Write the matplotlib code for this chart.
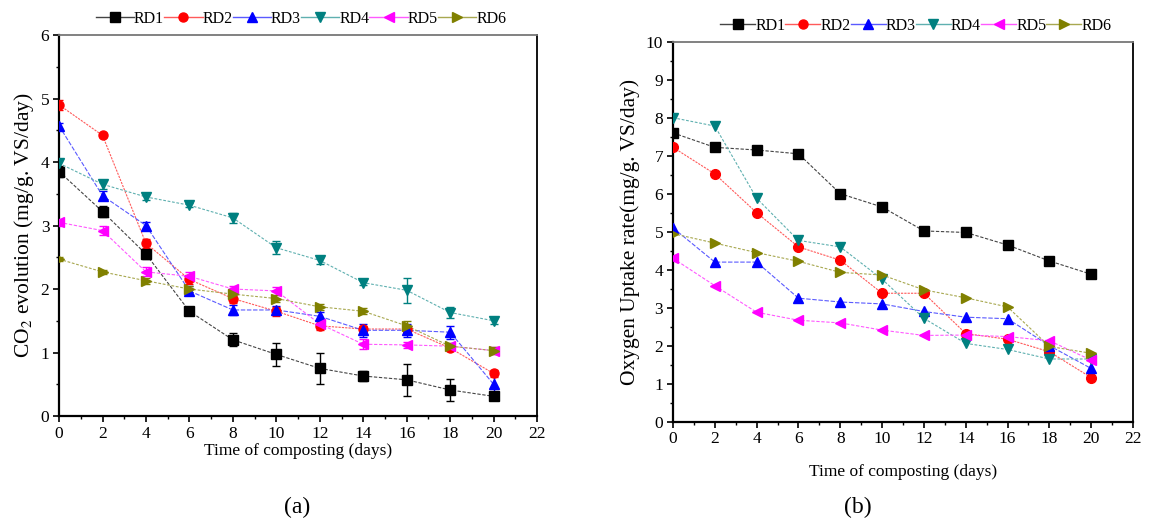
import matplotlib.pyplot as plt
from matplotlib.lines import Line2D
import numpy as np

plt.rcParams['font.family'] = ['Liberation Serif', 'DejaVu Serif']
plt.rcParams['mathtext.fontset'] = 'stix'

# Time of composting (days)
days = [0, 2, 4, 6, 8, 10, 12, 14, 16, 18, 20]
series = ['RD1', 'RD2', 'RD3', 'RD4', 'RD5', 'RD6']

# (a) CO2 evolution (mg/g VS/day)
co2 = {
    'RD1': [3.85, 3.22, 2.55, 1.65, 1.20, 0.97, 0.75, 0.63, 0.57, 0.41, 0.31],
    'RD2': [4.90, 4.42, 2.72, 2.15, 1.85, 1.65, 1.42, 1.37, 1.37, 1.07, 0.67],
    'RD3': [4.57, 3.47, 3.00, 1.97, 1.67, 1.67, 1.57, 1.35, 1.35, 1.32, 0.50],
    'RD4': [3.98, 3.65, 3.45, 3.32, 3.12, 2.65, 2.45, 2.10, 1.98, 1.63, 1.50],
    'RD5': [3.05, 2.92, 2.27, 2.20, 2.00, 1.97, 1.45, 1.13, 1.12, 1.10, 1.03],
    'RD6': [2.47, 2.27, 2.13, 2.00, 1.92, 1.85, 1.72, 1.65, 1.42, 1.10, 1.03],
}
co2_err = {
    'RD1': [0.08, 0.08, 0.08, 0.05, 0.10, 0.18, 0.25, 0.08, 0.25, 0.17, 0.05],
    'RD2': [0.08, 0.03, 0.07, 0.07, 0.07, 0.07, 0.07, 0.05, 0.05, 0.05, 0.05],
    'RD3': [0.05, 0.07, 0.05, 0.07, 0.08, 0.07, 0.07, 0.10, 0.10, 0.10, 0.15],
    'RD4': [0.07, 0.07, 0.05, 0.03, 0.08, 0.10, 0.06, 0.04, 0.20, 0.08, 0.05],
    'RD5': [0.05, 0.07, 0.07, 0.07, 0.05, 0.06, 0.05, 0.08, 0.05, 0.05, 0.05],
    'RD6': [0.03, 0.03, 0.05, 0.05, 0.05, 0.05, 0.05, 0.05, 0.07, 0.05, 0.05],
}

# (b) Oxygen uptake rate (mg/g VS/day)
o2 = {
    'RD1': [7.60, 7.22, 7.15, 7.05, 6.00, 5.65, 5.02, 4.98, 4.65, 4.23, 3.88],
    'RD2': [7.22, 6.52, 5.50, 4.60, 4.25, 3.38, 3.38, 2.32, 2.17, 1.84, 1.16],
    'RD3': [5.10, 4.20, 4.20, 3.25, 3.15, 3.10, 2.90, 2.75, 2.71, 2.00, 1.40],
    'RD4': [8.00, 7.78, 5.88, 4.77, 4.60, 3.75, 2.72, 2.06, 1.90, 1.65, 1.65],
    'RD5': [4.30, 3.58, 2.88, 2.67, 2.60, 2.41, 2.27, 2.28, 2.24, 2.13, 1.62],
    'RD6': [4.95, 4.70, 4.45, 4.22, 3.93, 3.86, 3.47, 3.26, 3.02, 1.98, 1.80],
}

colors = {'RD1': 'black', 'RD2': '#ff0000', 'RD3': '#0000ff',
          'RD4': '#008080', 'RD5': '#ff00ff', 'RD6': '#808000'}
line_colors = {'RD1': '#444444', 'RD2': '#ff5a5a', 'RD3': '#5a5aff',
               'RD4': '#5fb0b0', 'RD5': '#ff5aff', 'RD6': '#a8a850'}
markers = {'RD1': 's', 'RD2': 'o', 'RD3': '^', 'RD4': 'v', 'RD5': '<', 'RD6': '>'}
dashes = {'RD1': (3, 1.5), 'RD2': (2, 1), 'RD3': (4, 1.5),
          'RD4': (2.5, 1.5), 'RD5': (3, 1.5), 'RD6': (2.5, 1.5)}

fig = plt.figure(figsize=(11.51, 5.26), dpi=100)
ax1 = fig.add_axes([0.0513, 0.2091, 0.4153, 0.7243])
ax2 = fig.add_axes([0.5847, 0.1983, 0.3997, 0.7224])


def style_axes(ax, ymax, ystep):
    ax.set_xlim(0, 22)
    ax.set_ylim(0, ymax)
    ax.set_xticks(np.arange(0, 23, 2))
    ax.set_xticks(np.arange(1, 23, 2), minor=True)
    ax.set_yticks(np.arange(0, ymax + 0.1, ystep))
    ax.set_yticks(np.arange(0.5, ymax, 0.5), minor=True)
    ax.tick_params(which='major', direction='out', length=4, width=1.2,
                   labelsize=12.5, pad=3)
    ax.tick_params(which='minor', direction='out', length=2.5, width=1.0)
    ax.spines['left'].set_linewidth(1.6)
    ax.spines['bottom'].set_linewidth(1.6)
    ax.spines['right'].set_linewidth(1.3)
    ax.spines['top'].set_linewidth(1.3)
    ax.spines['top'].set_color('#777777')


def add_legend(ax, x0, hl):
    handles = [Line2D([0], [0], color=line_colors[s], lw=1.0, marker=markers[s],
                      markersize=6.5, markerfacecolor=colors[s],
                      markeredgecolor=colors[s]) for s in series]
    ax.legend(handles, series, loc='lower left', bbox_to_anchor=(x0, 1.0),
              ncol=6, frameon=False, fontsize=11.5, handlelength=hl,
              handletextpad=0.0, columnspacing=0.0, borderaxespad=0.1)


# Panel (a)
for s in series:
    ax1.plot(days, co2[s], color=line_colors[s], lw=0.8, dashes=dashes[s], zorder=2)
    ax1.errorbar(days, co2[s], yerr=co2_err[s], fmt=markers[s], color=colors[s],
                 markersize=6.5, capsize=3, elinewidth=1.0, capthick=1.0, zorder=3)
style_axes(ax1, 6, 1)
ax1.set_xlabel('Time of composting (days)', fontsize=12.5, labelpad=1)
ax1.set_ylabel('CO$_2$ evolution (mg/g. VS/day)', fontsize=15.5, labelpad=3)
add_legend(ax1, 0.06, 2.4)

# Panel (b)
for s in series:
    ax2.plot(days, o2[s], color=line_colors[s], lw=0.8, dashes=dashes[s], zorder=2)
    ax2.plot(days, o2[s], linestyle='none', marker=markers[s], color=colors[s],
             markersize=7, zorder=3)
style_axes(ax2, 10, 1)
ax2.set_xlabel('Time of composting (days)', fontsize=12.5, labelpad=12)
ax2.set_ylabel('Oxygen Uptake rate(mg/g. VS/day)', fontsize=15.5, labelpad=4)
add_legend(ax2, 0.085, 2.2)

fig.text(0.258, 0.035, '(a)', fontsize=17, ha='center', va='center')
fig.text(0.745, 0.035, '(b)', fontsize=17, ha='center', va='center')

fig.savefig('out.png', dpi=100, facecolor='white')
